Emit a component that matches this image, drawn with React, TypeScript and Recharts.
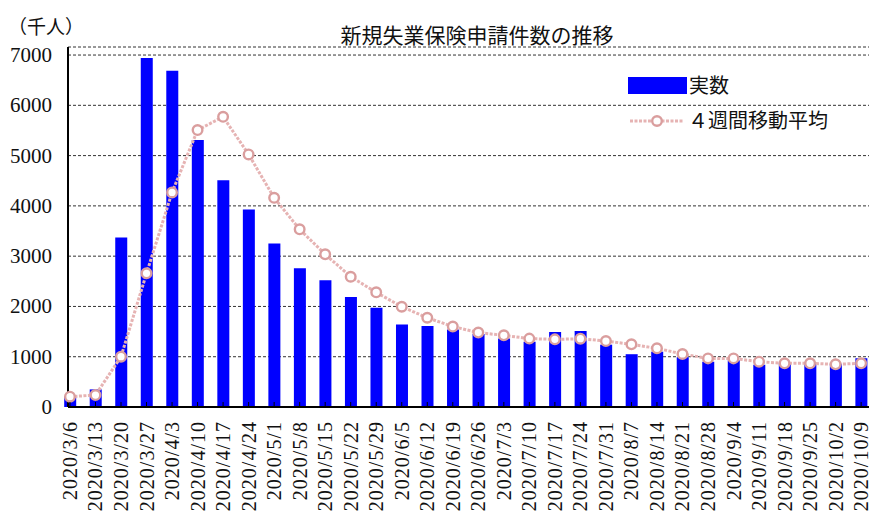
import React from 'react';
import { ComposedChart, Bar, Line, XAxis, YAxis, CartesianGrid, Legend } from 'recharts';

const weeks = [
  '2020/3/6', '2020/3/13', '2020/3/20', '2020/3/27', '2020/4/3', '2020/4/10', '2020/4/17', '2020/4/24',
  '2020/5/1', '2020/5/8', '2020/5/15', '2020/5/22', '2020/5/29', '2020/6/5', '2020/6/12', '2020/6/19',
  '2020/6/26', '2020/7/3', '2020/7/10', '2020/7/17', '2020/7/24', '2020/7/31', '2020/8/7', '2020/8/14',
  '2020/8/21', '2020/8/28', '2020/9/4', '2020/9/11', '2020/9/18', '2020/9/25', '2020/10/2', '2020/10/9',
];

const actual = [
  210, 350, 3370, 6940, 6690, 5310, 4510, 3930,
  3250, 2760, 2520, 2190, 1975, 1640, 1610, 1540,
  1450, 1360, 1300, 1490, 1510, 1240, 1050, 1100,
  990, 900, 930, 840, 880, 880, 860, 970,
];

const movingAvg = [
  205, 238, 1000, 2658, 4268, 5507, 5772, 5024,
  4161, 3533, 3036, 2591, 2280, 1994, 1775, 1600,
  1480, 1425, 1360, 1345, 1358, 1312, 1246, 1167,
  1054, 967, 967, 901, 868, 868, 849, 868,
];

const yTicks = [0, 1000, 2000, 3000, 4000, 5000, 6000, 7000];

const title = '新規失業保険申請件数の推移';
const unitLabel = '（千人）';
const seriesActual = '実数';
const seriesAvg = '４週間移動平均';

const data = weeks.map((w, i) => ({ week: w, actual: actual[i], avg: movingAvg[i] }));

const JP = "'Noto Sans CJK JP', 'Noto Sans', sans-serif";
const NUM = '"Liberation Serif", "DejaVu Serif", serif';
const LINE_COLOR = '#E6B3B3';
const DOT_COLOR = '#DA9E9E';

const XTick = (props: any) => {
  const { x, y, payload } = props;
  return (
    <g>
      <line x1={x} y1={y - 5} x2={x} y2={y} stroke="#000" strokeWidth={1} />
      <text
        x={x}
        y={y + 14}
        transform={`rotate(-90 ${x} ${y + 14})`}
        textAnchor="end"
        dominantBaseline="central"
        style={{ fontFamily: NUM, fontSize: 20, letterSpacing: 1 }}
        fill="#111"
      >
        {payload.value}
      </text>
    </g>
  );
};

const YTick = (props: any) => {
  const { x, y, payload } = props;
  return (
    <text
      x={x}
      y={y}
      textAnchor="end"
      dominantBaseline="central"
      style={{ fontFamily: NUM, fontSize: 21 }}
      fill="#111"
    >
      {payload.value}
    </text>
  );
};

const LegendContent = () => (
  <div style={{ position: 'relative', width: 869, height: 514, pointerEvents: 'none' }}>
    <svg style={{ position: 'absolute', left: 620, top: 70 }} width={70} height={60}>
      <rect x={8} y={7} width={59} height={17} fill="#0000FF" />
      <line x1={10} y1={51} x2={64} y2={51} stroke={LINE_COLOR} strokeWidth={3} strokeDasharray="3 1.5" />
      <circle cx={37} cy={51} r={4.8} fill="#fff" stroke={DOT_COLOR} strokeWidth={2.4} />
    </svg>
    <div style={{ position: 'absolute', left: 689, top: 75, fontFamily: JP, fontSize: 20, lineHeight: '20px', color: '#111', whiteSpace: 'nowrap' }}>
      {seriesActual}
    </div>
    <div style={{ position: 'absolute', left: 688, top: 110, fontFamily: JP, fontSize: 20, lineHeight: '20px', color: '#111', whiteSpace: 'nowrap' }}>
      {seriesAvg}
    </div>
  </div>
);

export default function App() {
  return (
    <div style={{ position: 'absolute', left: 0, top: 0, width: 869, height: 514, background: '#fff', overflow: 'hidden' }}>
      <ComposedChart
        width={869}
        height={514}
        data={data}
        margin={{ top: 47, right: 0, bottom: 0, left: 0 }}
      >
        <CartesianGrid vertical={false} stroke="#333" strokeDasharray="3 2" />
        <Bar dataKey="actual" name={seriesActual} fill="#0000FF" barSize={12} isAnimationActive={false} />
        <Line
          dataKey="avg"
          name={seriesAvg}
          type="linear"
          stroke={LINE_COLOR}
          strokeWidth={3}
          strokeDasharray="3 1.5"
          dot={{ r: 4.8, fill: '#fff', stroke: DOT_COLOR, strokeWidth: 2.4, strokeDasharray: '' }}
          activeDot={false}
          isAnimationActive={false}
        />
        <XAxis
          dataKey="week"
          height={107}
          interval={0}
          padding={{ left: -10.8, right: -4.9 }}
          axisLine={{ stroke: '#000', strokeWidth: 2 }}
          tickLine={false}
          tickSize={0}
          tickMargin={0}
          tick={<XTick />}
        />
        <YAxis
          width={68}
          domain={[0, 7160]}
          ticks={yTicks}
          interval={0}
          axisLine={{ stroke: '#000', strokeWidth: 2 }}
          tickLine={false}
          tickSize={0}
          tickMargin={16}
          tick={<YTick />}
        />
        <Legend
          layout="vertical"
          align="center"
          verticalAlign="middle"
          wrapperStyle={{ position: 'absolute', left: 0, top: 0, width: 869, height: 514 }}
          content={<LegendContent />}
        />
      </ComposedChart>
      <div style={{ position: 'absolute', left: 477, top: 24, transform: 'translateX(-50%)', fontFamily: JP, fontSize: 21, lineHeight: '21px', color: '#111', whiteSpace: 'nowrap' }}>
        {title}
      </div>
      <div style={{ position: 'absolute', left: 8, top: 16, fontFamily: JP, fontSize: 19, lineHeight: '19px', color: '#111', whiteSpace: 'nowrap' }}>
        {unitLabel}
      </div>
    </div>
  );
}
